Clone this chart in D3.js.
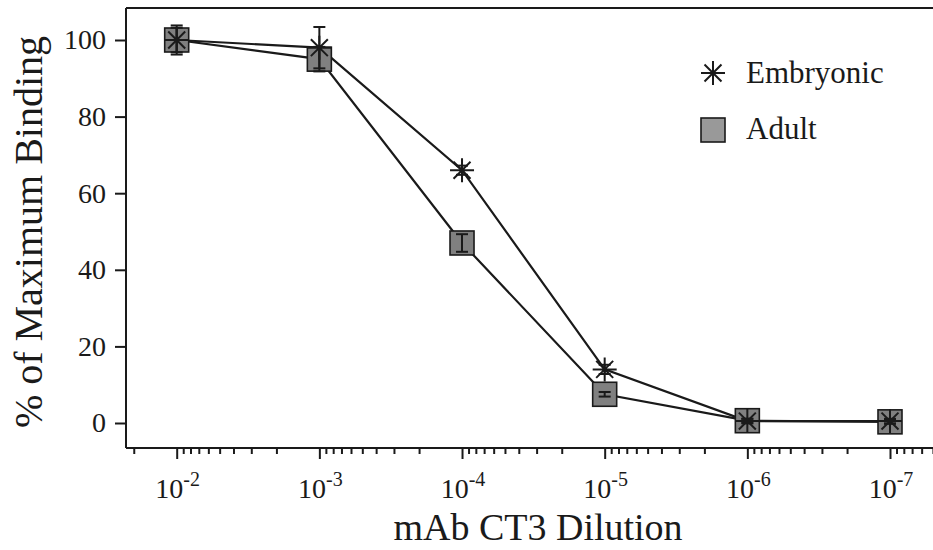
<!DOCTYPE html>
<html><head><meta charset="utf-8">
<script src="https://cdn.jsdelivr.net/npm/d3@7"></script>
<style>body{margin:0;background:#fff}svg{display:block}text{font-family:"Liberation Serif","Times New Roman",serif;fill:#1a1a1a}</style>
</head><body>
<svg id="c" width="933" height="550"></svg>
<script>
const dilutions = [1e-2, 1e-3, 1e-4, 1e-5, 1e-6, 1e-7];
const tickExponents = [-2, -3, -4, -5, -6, -7];
const embryonic = [100, 98, 66, 14, 0.5, 0.5];
const embryonicErr = [3.8, 5.4, 1.2, 1.2, 0.6, 0.6];
const adult = [100, 95, 47, 7.5, 0.6, 0.3];
const adultErr = [3.2, 3.2, 2.3, 0.6, 0.5, 0.5];
const yTicks = [0, 20, 40, 60, 80, 100];
const seriesNames = ["Embryonic", "Adult"];

const svg = d3.select("#c");
const ink = "#1a1a1a";
const pLeft = 126, pTop = 8, pBottom = 448, pRight = 960;
const perDecade = (890 - 176.7) / 5;
const x = d3.scaleLog()
  .domain([Math.pow(10, -2 + (176.7 - pLeft) / perDecade), Math.pow(10, -2 - (pRight - 176.7) / perDecade)])
  .range([pLeft, pRight]);
const y = d3.scaleLinear().domain([0, 100]).range([423, 40]);

svg.append("line").attr("x1", pLeft).attr("x2", pRight).attr("y1", pTop).attr("y2", pTop)
  .attr("stroke", ink).attr("stroke-width", 2);
svg.append("line").attr("x1", pLeft).attr("x2", pLeft).attr("y1", pTop).attr("y2", pBottom)
  .attr("stroke", ink).attr("stroke-width", 2);

const minors = [];
for (let e = -1; e >= -8; e--) {
  for (let m = 2; m <= 9; m++) {
    const v = m * Math.pow(10, e - 1);
    const px = x(v);
    if (px > pLeft + 2 && px < 933) minors.push(v);
  }
}
const gx = svg.append("g").attr("transform", `translate(0,${pBottom})`)
  .call(d3.axisBottom(x).tickValues(dilutions).tickSize(11).tickFormat(""));
gx.select(".domain").attr("stroke", ink).attr("stroke-width", 2).attr("d", `M${pLeft},0H${pRight}`);
gx.selectAll(".tick line").attr("stroke", ink).attr("stroke-width", 2);
const gxm = svg.append("g").attr("transform", `translate(0,${pBottom})`)
  .call(d3.axisBottom(x).tickValues(minors).tickSize(6).tickFormat(""));
gxm.select(".domain").remove();
gxm.selectAll(".tick line").attr("stroke", ink).attr("stroke-width", 2);

const lab = svg.append("g").selectAll("text").data(dilutions).join("text")
  .attr("x", d => x(d) + 1).attr("y", 498).attr("text-anchor", "middle")
  .attr("font-size", 28);
lab.append("tspan").text("10");
lab.append("tspan").attr("font-size", 20).attr("dy", -12).text((d, i) => tickExponents[i]);

const gy = svg.append("g").attr("transform", `translate(${pLeft},0)`)
  .call(d3.axisLeft(y).tickValues(yTicks).tickSize(11).tickPadding(9));
gy.select(".domain").remove();
gy.selectAll(".tick line").attr("stroke", ink).attr("stroke-width", 2);
gy.selectAll(".tick text").attr("font-size", 28).attr("font-family", '"Liberation Serif",serif').attr("fill", ink);

svg.append("text").attr("transform", "translate(42,232) rotate(-90)").attr("text-anchor", "middle")
  .attr("font-size", 40).text("% of Maximum Binding");
svg.append("text").attr("x", 538).attr("y", 540).attr("text-anchor", "middle")
  .attr("font-size", 38).text("mAb CT3 Dilution");

const line = d3.line().x(d => x(d[0])).y(d => y(d[1]));
const eData = dilutions.map((d, i) => [d, embryonic[i], embryonicErr[i]]);
const aData = dilutions.map((d, i) => [d, adult[i], adultErr[i]]);

svg.append("path").datum(aData).attr("d", line).attr("fill", "none").attr("stroke", ink).attr("stroke-width", 2.2);
svg.append("path").datum(eData).attr("d", line).attr("fill", "none").attr("stroke", ink).attr("stroke-width", 2.2);

const sq = 24;
function squares(g, data) {
  g.selectAll("rect").data(data).join("rect")
    .attr("x", d => x(d[0]) - sq / 2).attr("y", d => y(d[1]) - sq / 2)
    .attr("width", sq).attr("height", sq)
    .attr("fill", "#808080").attr("stroke", ink).attr("stroke-width", 1.6);
}
function errbars(g, data) {
  const e = g.selectAll("g").data(data).join("g");
  const cap = 6;
  e.append("line").attr("x1", d => x(d[0])).attr("x2", d => x(d[0]))
    .attr("y1", d => y(d[1] + d[2])).attr("y2", d => y(d[1] - d[2]))
    .attr("stroke", ink).attr("stroke-width", 2);
  e.append("line").attr("x1", d => x(d[0]) - cap).attr("x2", d => x(d[0]) + cap)
    .attr("y1", d => y(d[1] + d[2])).attr("y2", d => y(d[1] + d[2]))
    .attr("stroke", ink).attr("stroke-width", 2);
  e.append("line").attr("x1", d => x(d[0]) - cap).attr("x2", d => x(d[0]) + cap)
    .attr("y1", d => y(d[1] - d[2])).attr("y2", d => y(d[1] - d[2]))
    .attr("stroke", ink).attr("stroke-width", 2);
}
function asterisk(g, cx, cy, r) {
  const a = r * Math.SQRT1_2;
  const p = `M${cx - r},${cy}H${cx + r}M${cx},${cy - r}V${cy + r}M${cx - a},${cy - a}L${cx + a},${cy + a}M${cx - a},${cy + a}L${cx + a},${cy - a}`;
  g.append("path").attr("d", p).attr("stroke", ink).attr("stroke-width", 2).attr("fill", "none");
}

squares(svg.append("g"), aData);
errbars(svg.append("g"), aData);
errbars(svg.append("g"), eData);
const ag = svg.append("g");
eData.forEach(d => asterisk(ag, x(d[0]), y(d[1]), 12));

const lg = svg.append("g");
asterisk(lg, 713, 73, 12);
lg.append("rect").attr("x", 713 - 12).attr("y", 130 - 12).attr("width", 24).attr("height", 24)
  .attr("fill", "#999").attr("stroke", ink).attr("stroke-width", 1.6);
lg.append("text").attr("x", 746).attr("y", 83).attr("font-size", 31).text(seriesNames[0]);
lg.append("text").attr("x", 746).attr("y", 139).attr("font-size", 31).text(seriesNames[1]);
</script>
</body></html>
